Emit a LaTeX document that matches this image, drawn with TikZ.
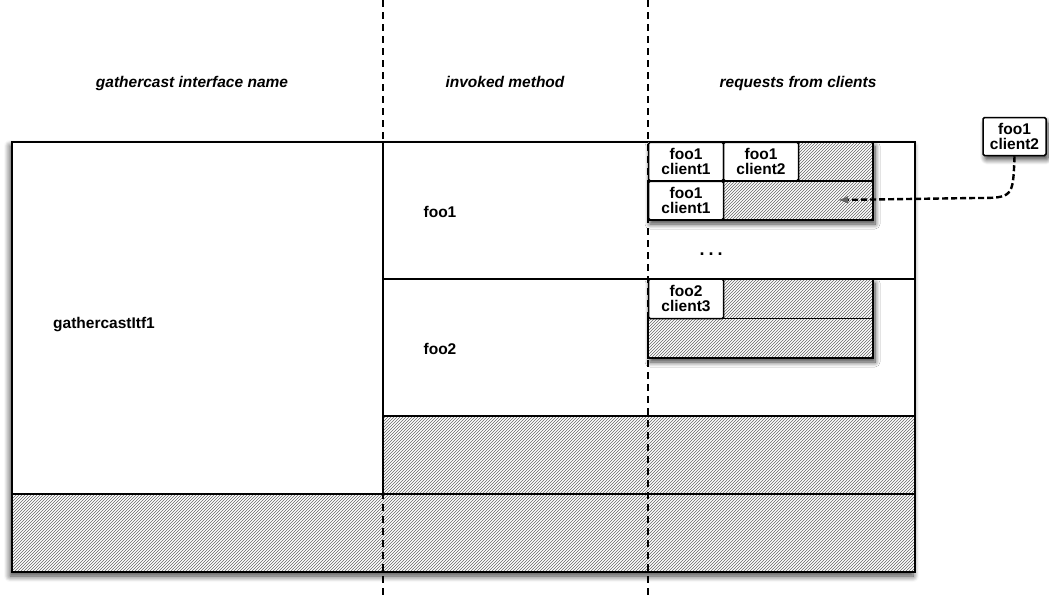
\documentclass[tikz,border=0pt]{standalone}
\usepackage{fontspec}
\setmainfont{Liberation Sans}
\usetikzlibrary{patterns,shadows.blur,arrows}

\begin{document}
\begin{tikzpicture}[x=1pt,y=-1pt, line width=1.2pt,
  every node/.style = {font=\bfseries\fontsize{15.5}{15}\selectfont},
  header/.style = {anchor=base, font=\bfseries\itshape\fontsize{15.5}{15}\selectfont},
  hatch/.style = {draw, pattern=north east lines, pattern color=black!60},
  cell/.style = {shape=rectangle, rounded corners=1.5pt, draw, line width=1.5pt,
    fill=white, align=center, inner sep=0pt,
    minimum width=75pt, minimum height=38.5pt},
  sep/.style = {dashed, line width=1.1pt, dash pattern=on 7pt off 5pt},
  queueshadow/.style = {fill=white, blur shadow={shadow xshift=2pt,
    shadow yshift=-4pt, shadow blur radius=5pt, shadow blur steps=8,
    shadow opacity=75}}]
  \useasboundingbox (0,0) rectangle (1049,598);

  % headers
  \node[header] (hitf) at (192,87) {gathercast interface name};
  \node[header] (hmeth) at (505,87) {invoked method};
  \node[header] (hreq) at (798,87) {requests from clients};

  % outer table
  \fill[white, blur shadow={shadow xshift=-2pt, shadow yshift=-4pt,
    shadow blur radius=6pt, shadow blur steps=8, shadow opacity=75}]
    (12,142) rectangle (915,572);
  \draw (12,142) rectangle (383,494);
  \draw (383,142) rectangle (915,279);
  \draw (383,279) rectangle (915,416);
  \draw[hatch] (383,416) rectangle (915,494);
  \draw[hatch] (12,494) rectangle (915,572);
  \draw (12,142) rectangle (915,572);

  \node (itf) at (104,325) {gathercastItf1};
  \node (foo1) at (440,212) {foo1};
  \node (foo2) at (440,349) {foo2};

  % queue of foo1
  \fill[queueshadow] (648,142) rectangle (873,220);
  \draw[hatch] (723,142) rectangle (873,181);
  \draw[hatch] (648,181) rectangle (873,220);
  \node[cell] (q1a) at (686,161.5) {foo1\\client1};
  \node[cell] (q1b) at (761,161.5) {foo1\\client2};
  \node[cell] (q1c) at (686,200.5) {foo1\\client1};
  \coordinate (q1tip) at (838,200);
  \node[font=\bfseries\fontsize{18}{18}\selectfont] (dots) at (711,254) {.\hspace{4pt}.\hspace{4pt}.};

  % queue of foo2
  \fill[queueshadow] (648,279) rectangle (873,358);
  \draw[hatch] (723,279) rectangle (873,318.5);
  \draw[hatch] (648,318.5) rectangle (873,358);
  \node[cell, minimum height=39.5pt] (q2a) at (686,298.8) {foo2\\client3};

  % incoming request
  \node[cell, minimum width=63pt, minimum height=38pt, queueshadow]
    (incoming) at (1014.5,136.5) {foo1\\client2};
  \draw[line width=2.4pt, dashed, dash pattern=on 6pt off 3pt, -latex]
    (incoming.south) .. controls (1013,198) .. (975,198) -- (q1tip);

  % column separators
  \draw[sep] (383,0) -- (383,598);
  \draw[sep] (648,0) -- (648,598);
\end{tikzpicture}
\end{document}
